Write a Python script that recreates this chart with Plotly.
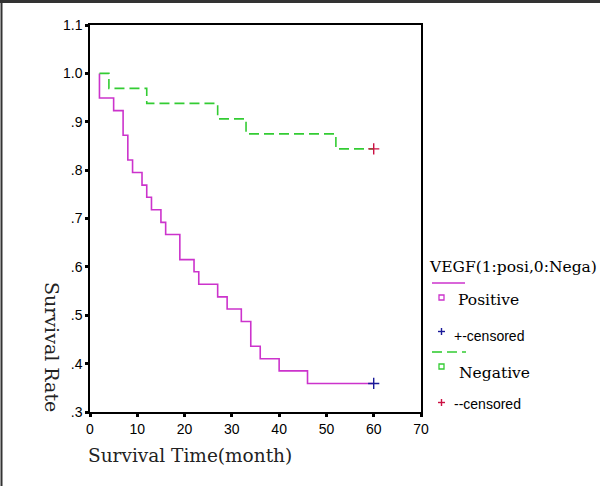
import plotly.graph_objects as go

# ---- data ----
pos_time = [2, 2, 5, 7, 8, 9, 11, 12, 13, 15, 16, 19, 22, 23, 27, 29, 32, 34, 36, 40, 46, 60]
pos_surv = [1.0, 0.949, 0.923, 0.872, 0.821, 0.795, 0.769, 0.744, 0.718, 0.692, 0.667,
            0.615, 0.590, 0.564, 0.538, 0.513, 0.487, 0.436, 0.410, 0.385, 0.359, 0.359]
pos_cens_time = [60]
pos_cens_surv = [0.359]

neg_time = [2, 4, 12, 27, 33, 52, 60]
neg_surv = [1.0, 0.969, 0.938, 0.906, 0.875, 0.844, 0.844]
neg_cens_time = [60]
neg_cens_surv = [0.844]

y_tickvals = [0.3, 0.4, 0.5, 0.6, 0.7, 0.8, 0.9, 1.0, 1.1]
y_ticktext = [".3", ".4", ".5", ".6", ".7", ".8", ".9", "1.0", "1.1"]
x_tickvals = [0, 10, 20, 30, 40, 50, 60, 70]

legend_title = "VEGF(1:posi,0:Nega)"
legend_labels = ["Positive", "+-censored", "Negative", "--censored"]

MAG = "#cc33cc"
GRN = "#33cc33"
BLU = "#1a1a99"
RED = "#cc1144"

fig = go.Figure()
fig.add_trace(go.Scatter(x=pos_time, y=pos_surv, mode="lines", line=dict(shape="hv", color=MAG, width=1.6),
                         showlegend=False, hoverinfo="skip"))
fig.add_trace(go.Scatter(x=neg_time, y=neg_surv, mode="lines",
                         line=dict(shape="hv", color=GRN, width=1.6, dash="10px,5px"),
                         showlegend=False, hoverinfo="skip"))
fig.add_trace(go.Scatter(x=pos_cens_time, y=pos_cens_surv, mode="markers",
                         marker=dict(symbol="cross-thin", size=8, line=dict(color=BLU, width=1.4)),
                         showlegend=False, hoverinfo="skip"))
fig.add_trace(go.Scatter(x=neg_cens_time, y=neg_cens_surv, mode="markers",
                         marker=dict(symbol="cross-thin", size=8, line=dict(color=RED, width=1.4)),
                         showlegend=False, hoverinfo="skip"))

W, H = 600, 486
L, R, T, B = 90, 179, 25, 74
PW, PH = W - L - R, H - T - B


def px(x):
    return (x - L) / PW


def py(y):
    return (H - B - y) / PH


shapes = []
annots = []

# outer frame (top + left)
shapes.append(dict(type="rect", xref="paper", yref="paper", x0=px(0), x1=px(600), y0=py(0), y1=py(3),
                   fillcolor="#333333", line=dict(width=0), layer="above"))
shapes.append(dict(type="rect", xref="paper", yref="paper", x0=px(0.5), x1=px(2.5), y0=py(0), y1=py(486),
                   fillcolor="#333333", line=dict(width=0), layer="above"))

# custom legend
annots.append(dict(xref="paper", yref="paper", x=px(427), y=py(267), text=legend_title, showarrow=False,
                   xanchor="left", yanchor="middle", font=dict(family="DejaVu Serif", size=15.5, color="black")))
shapes.append(dict(type="line", xref="paper", yref="paper", x0=px(432), x1=px(465), y0=py(283), y1=py(283),
                   line=dict(color=MAG, width=1.6)))
shapes.append(dict(type="rect", xref="paper", yref="paper", x0=px(439), x1=px(444), y0=py(295), y1=py(300),
                   line=dict(color=MAG, width=1.3)))
annots.append(dict(xref="paper", yref="paper", x=px(456), y=py(300), text=legend_labels[0], showarrow=False,
                   xanchor="left", yanchor="middle", font=dict(family="DejaVu Serif", size=15.5, color="black")))
# blue plus
shapes.append(dict(type="line", xref="paper", yref="paper", x0=px(438), x1=px(445), y0=py(331.5), y1=py(331.5),
                   line=dict(color=BLU, width=1.4)))
shapes.append(dict(type="line", xref="paper", yref="paper", x0=px(441.5), x1=px(441.5), y0=py(328), y1=py(335),
                   line=dict(color=BLU, width=1.4)))
annots.append(dict(xref="paper", yref="paper", x=px(452), y=py(336), text=legend_labels[1], showarrow=False,
                   xanchor="left", yanchor="middle", font=dict(family="Liberation Sans", size=14, color="black")))
# green dashed sample
shapes.append(dict(type="line", xref="paper", yref="paper", x0=px(432), x1=px(442), y0=py(352), y1=py(352),
                   line=dict(color=GRN, width=1.6)))
shapes.append(dict(type="line", xref="paper", yref="paper", x0=px(447), x1=px(466), y0=py(352), y1=py(352),
                   line=dict(color=GRN, width=1.6, dash="10px,5px")))
shapes.append(dict(type="rect", xref="paper", yref="paper", x0=px(439), x1=px(444), y0=py(364), y1=py(369),
                   line=dict(color=GRN, width=1.3)))
annots.append(dict(xref="paper", yref="paper", x=px(457), y=py(373), text=legend_labels[2], showarrow=False,
                   xanchor="left", yanchor="middle", font=dict(family="DejaVu Serif", size=15.5, color="black")))
# red plus
shapes.append(dict(type="line", xref="paper", yref="paper", x0=px(438), x1=px(445), y0=py(402.5), y1=py(402.5),
                   line=dict(color=RED, width=1.4)))
shapes.append(dict(type="line", xref="paper", yref="paper", x0=px(441.5), x1=px(441.5), y0=py(399), y1=py(406),
                   line=dict(color=RED, width=1.4)))
annots.append(dict(xref="paper", yref="paper", x=px(452), y=py(404), text=legend_labels[3], showarrow=False,
                   xanchor="left", yanchor="middle", font=dict(family="Liberation Sans", size=14, color="black")))

# axis titles
annots.append(dict(xref="paper", yref="paper", x=px(190), y=py(455), text="Survival Time(month)", showarrow=False,
                   xanchor="center", yanchor="middle", font=dict(family="DejaVu Serif", size=18.5, color="#222222")))
annots.append(dict(xref="paper", yref="paper", x=px(52), y=py(347), text="Survival Rate", showarrow=False,
                   textangle=90, xanchor="center", yanchor="middle",
                   font=dict(family="DejaVu Serif", size=19, color="#222222")))

fig.update_layout(
    width=W, height=H,
    margin=dict(l=L, r=R, t=T, b=B, pad=0),
    paper_bgcolor="white", plot_bgcolor="white",
    shapes=shapes, annotations=annots,
    showlegend=False,
    xaxis=dict(range=[0, 70], tickvals=x_tickvals, showgrid=False, zeroline=False,
               showline=True, linecolor="black", linewidth=1.5, mirror=True,
               ticks="outside", ticklen=3, tickwidth=3, tickcolor="black",
               tickfont=dict(family="Liberation Sans", size=14, color="black")),
    yaxis=dict(range=[0.3, 1.1], tickvals=y_tickvals, ticktext=y_ticktext, showgrid=False, zeroline=False,
               showline=True, linecolor="black", linewidth=1.5, mirror=True,
               ticks="outside", ticklen=3, tickwidth=3, tickcolor="black",
               tickfont=dict(family="Liberation Sans", size=14, color="black")),
)

fig.write_html("out.html", config={"displayModeBar": False},
               post_script="document.body.style.margin='0';document.body.style.overflow='hidden';")
